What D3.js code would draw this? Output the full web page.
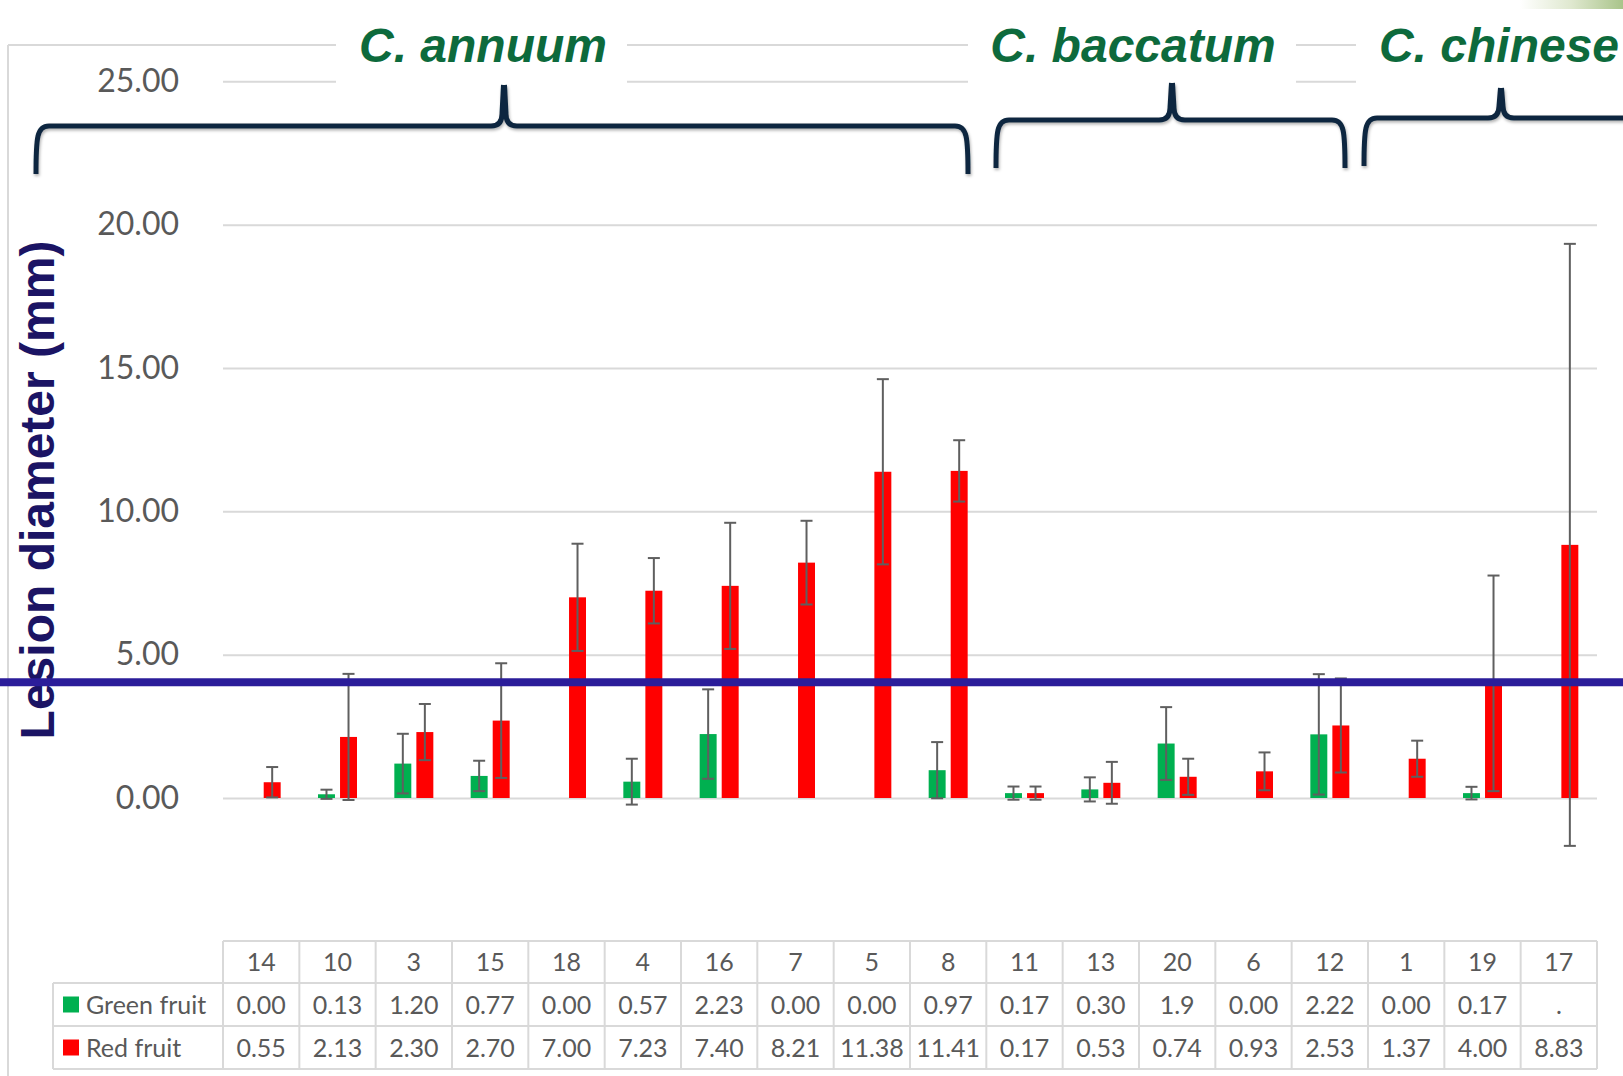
<!DOCTYPE html>
<html>
<head>
<meta charset="utf-8">
<script src="https://cdn.jsdelivr.net/npm/d3@7"></script>
<style>
  html, body { margin: 0; padding: 0; background: #fff; }
  svg { display: block; }
</style>
</head>
<body>
<div class="svg-container"></div>
<script>
// chart data
const categories = ["14", "10", "3", "15", "18", "4", "16", "7", "5", "8", "11", "13", "20", "6", "12", "1", "19", "17"];
const greenValues = [0, 0.13, 1.2, 0.77, 0, 0.57, 2.23, 0, 0, 0.97, 0.17, 0.3, 1.9, 0, 2.22, 0, 0.17, null];
const redValues = [0.55, 2.13, 2.3, 2.7, 7.0, 7.23, 7.4, 8.21, 11.38, 11.41, 0.17, 0.53, 0.74, 0.93, 2.53, 1.37, 4.0, 8.83];
const greenErrors = [0, 0.16, 1.04, 0.53, 0, 0.8, 1.56, 0, 0, 0.98, 0.23, 0.42, 1.27, 0, 2.1, 0, 0.22, null];
const redErrors = [0.53, 2.2, 0.98, 2.0, 1.87, 1.14, 2.2, 1.46, 3.23, 1.07, 0.23, 0.73, 0.63, 0.66, 1.64, 0.63, 3.76, 10.5];
const greenLabels = ["0.00", "0.13", "1.20", "0.77", "0.00", "0.57", "2.23", "0.00", "0.00", "0.97", "0.17", "0.30", "1.9", "0.00", "2.22", "0.00", "0.17", "."];
const yTicks = [0, 5, 10, 15, 20, 25];
const thresholdValue = 4.04;
const seriesNames = ["Green fruit", "Red fruit"];
const speciesNames = ["C. annuum", "C. baccatum", "C. chinese"];

// layout
const width = 1623;
const height = 1076;
const plot = { left: 223, right: 1597, top: 81.3, bottom: 798 };
const table = { legendLeft: 53, top: 941, rowH: [42, 43, 43] };
const colors = { green: "#00b050", red: "#ff0000", grid: "#d9d9d9", text: "#595959" };

// species brace annotations: label box, label centre, brace geometry
const braceLayout = [
  { box: [336, 627], cx: 483, L: 36, R: 968, H: 126, B: 174, P: 504, T: 85 },
  { box: [968, 1296], cx: 1133, L: 996, R: 1345, H: 120, B: 168, P: 1172, T: 83 },
  { box: [1356, 1623], cx: 1499, L: 1364, R: 1720, H: 118, B: 166, P: 1501, T: 88 },
];

const rows = categories.map((c, i) => ({
  cat: c,
  green: greenValues[i],
  red: redValues[i],
  greenErr: greenErrors[i],
  redErr: redErrors[i],
}));

const svg = d3
  .select(".svg-container")
  .append("svg")
  .attr("width", width)
  .attr("height", height)
  .attr("viewBox", `0 0 ${width} ${height}`);

const defs = svg.append("defs");
const shadow = defs.append("filter").attr("id", "shadow").attr("x", "-10%").attr("y", "-50%").attr("width", "120%").attr("height", "200%");
shadow.append("feDropShadow").attr("dx", 1).attr("dy", 2).attr("stdDeviation", 1.5).attr("flood-color", "#000").attr("flood-opacity", 0.3);
const grad = defs.append("linearGradient").attr("id", "corner").attr("x1", "0").attr("x2", "1");
grad.append("stop").attr("offset", "0").attr("stop-color", "#ffffff");
grad.append("stop").attr("offset", "0.5").attr("stop-color", "#dfe8cf");
grad.append("stop").attr("offset", "1").attr("stop-color", "#a9c48a");

svg.append("rect").attr("width", width).attr("height", height).attr("fill", "#fff");
svg.append("rect").attr("x", 1520).attr("y", 0).attr("width", 103).attr("height", 9).attr("fill", "url(#corner)");

// scales
const xScale = d3.scaleBand().domain(categories).range([plot.left, plot.right]).padding(0);
const bw = xScale.bandwidth();
const xInner = d3
  .scaleBand()
  .domain(["green", "red"])
  .range([bw / 2 - 19.5, bw / 2 + 19.5])
  .paddingInner(0.23);
const yScale = d3.scaleLinear().domain([0, 25]).range([plot.bottom, plot.top]);

// chart border
svg.append("line").attr("x1", 8).attr("x2", 8).attr("y1", 45).attr("y2", height)
  .attr("stroke", colors.grid).attr("stroke-width", 2);
svg.append("line").attr("x1", 8).attr("x2", width).attr("y1", 45).attr("y2", 45)
  .attr("stroke", colors.grid).attr("stroke-width", 2);

// y grid
svg
  .append("g")
  .attr("class", "grid")
  .attr("transform", `translate(${plot.left},0)`)
  .call(d3.axisLeft(yScale).tickValues(yTicks).tickSize(-(plot.right - plot.left)).tickFormat(""))
  .call((g) => g.select(".domain").remove())
  .call((g) => g.selectAll(".tick line").attr("stroke", colors.grid).attr("stroke-width", 2));

// y tick labels
svg
  .append("g")
  .attr("class", "y-axis")
  .attr("transform", `translate(179,0)`)
  .call(d3.axisLeft(yScale).tickValues(yTicks).tickSize(0).tickPadding(0).tickFormat(d3.format(".2f")))
  .call((g) => g.select(".domain").remove())
  .call((g) =>
    g.selectAll(".tick text")
      .attr("fill", colors.text)
      .attr("font-family", "Lato, 'Open Sans', sans-serif")
      .attr("font-size", 32)
  );

// species labels with white boxes
const species = svg.append("g").attr("class", "species");
species
  .selectAll("rect")
  .data(braceLayout)
  .join("rect")
  .attr("x", (d) => d.box[0])
  .attr("width", (d) => d.box[1] - d.box[0])
  .attr("y", 12)
  .attr("height", 82)
  .attr("fill", "#fff");
species
  .selectAll("text")
  .data(braceLayout)
  .join("text")
  .attr("x", (d) => d.cx)
  .attr("y", 62)
  .attr("text-anchor", "middle")
  .attr("font-family", "'Liberation Sans', Arial, sans-serif")
  .attr("font-weight", "bold")
  .attr("font-style", "italic")
  .attr("font-size", 48)
  .attr("fill", "#0d6a3c")
  .text((d, i) => speciesNames[i]);

// braces
const bracePath = (d) => {
  const r = 11;
  return `M${d.L},${d.B} C${d.L},${d.H + r} ${d.L + 1},${d.H} ${d.L + r + 2},${d.H}` +
    ` L${d.P - 13},${d.H} Q${d.P - 2},${d.H} ${d.P - 2},${d.H - 12} L${d.P - 0.5},${d.T}` +
    ` M${d.P + 0.5},${d.T} L${d.P + 2},${d.H - 12} Q${d.P + 2},${d.H} ${d.P + 13},${d.H}` +
    ` L${d.R - r - 2},${d.H} C${d.R - 1},${d.H} ${d.R},${d.H + r} ${d.R},${d.B}`;
};
svg
  .append("g")
  .attr("class", "braces")
  .attr("filter", "url(#shadow)")
  .selectAll("path")
  .data(braceLayout)
  .join("path")
  .attr("d", bracePath)
  .attr("fill", "none")
  .attr("stroke", "#10283f")
  .attr("stroke-width", 5)
  .attr("stroke-linejoin", "round");

// bars
const barGroups = svg
  .append("g")
  .attr("class", "bars")
  .selectAll("g")
  .data(rows)
  .join("g")
  .attr("transform", (d) => `translate(${xScale(d.cat)},0)`);

["green", "red"].forEach((key) => {
  barGroups
    .filter((d) => d[key] !== null && d[key] > 0)
    .append("rect")
    .attr("x", xInner(key))
    .attr("width", xInner.bandwidth())
    .attr("y", (d) => yScale(d[key]))
    .attr("height", (d) => yScale(0) - yScale(d[key]))
    .attr("fill", colors[key]);
});

// error bars
["green", "red"].forEach((key) => {
  const cx = xInner(key) + xInner.bandwidth() / 2;
  const eb = barGroups
    .filter((d) => d[key] !== null && d[key + "Err"] > 0)
    .append("g")
    .attr("stroke", "#5f5f5f")
    .attr("stroke-width", 2);
  eb.append("line")
    .attr("x1", cx).attr("x2", cx)
    .attr("y1", (d) => yScale(d[key] + d[key + "Err"]))
    .attr("y2", (d) => yScale(d[key] - d[key + "Err"]));
  eb.append("line")
    .attr("x1", cx - 6).attr("x2", cx + 6)
    .attr("y1", (d) => yScale(d[key] + d[key + "Err"]))
    .attr("y2", (d) => yScale(d[key] + d[key + "Err"]));
  eb.append("line")
    .attr("x1", cx - 6).attr("x2", cx + 6)
    .attr("y1", (d) => yScale(d[key] - d[key + "Err"]))
    .attr("y2", (d) => yScale(d[key] - d[key + "Err"]));
});

// y axis title
svg
  .append("text")
  .attr("transform", `translate(37,490) rotate(-90)`)
  .attr("text-anchor", "middle")
  .attr("dominant-baseline", "central")
  .attr("font-family", "'Liberation Sans', Arial, sans-serif")
  .attr("font-weight", "bold")
  .attr("font-size", 48)
  .attr("fill", "#1b1464")
  .text("Lesion diameter (mm)");

// threshold line
svg
  .append("line")
  .attr("x1", 0)
  .attr("x2", width)
  .attr("y1", yScale(thresholdValue))
  .attr("y2", yScale(thresholdValue))
  .attr("stroke", "#2b1d9a")
  .attr("stroke-width", 8);

// data table
const tbl = svg.append("g").attr("class", "data-table");
const rowTops = [table.top, table.top + table.rowH[0], table.top + table.rowH[0] + table.rowH[1]];
const tableBottom = rowTops[2] + table.rowH[2];
const lineStyle = (sel) => sel.attr("stroke", colors.grid).attr("stroke-width", 2);

tbl.append("line").attr("x1", plot.left).attr("x2", plot.right).attr("y1", rowTops[0]).attr("y2", rowTops[0]).call(lineStyle);
[rowTops[1], rowTops[2], tableBottom].forEach((y) => {
  tbl.append("line").attr("x1", table.legendLeft).attr("x2", plot.right).attr("y1", y).attr("y2", y).call(lineStyle);
});
tbl.append("line").attr("x1", table.legendLeft).attr("x2", table.legendLeft).attr("y1", rowTops[1]).attr("y2", tableBottom).call(lineStyle);
tbl
  .selectAll(".col-line")
  .data(categories.concat(["end"]))
  .join("line")
  .attr("class", "col-line")
  .attr("x1", (d, i) => plot.left + i * bw)
  .attr("x2", (d, i) => plot.left + i * bw)
  .attr("y1", rowTops[0])
  .attr("y2", tableBottom)
  .call(lineStyle);

const cellText = (sel) =>
  sel
    .attr("text-anchor", "middle")
    .attr("dy", "0.36em")
    .attr("font-family", "Lato, 'Open Sans', sans-serif")
    .attr("font-size", 25)
    .attr("fill", colors.text);

const rowMid = (r) => rowTops[r] + table.rowH[r] / 2;

tbl.selectAll(".hdr").data(categories).join("text").attr("class", "hdr")
  .attr("x", (d) => xScale(d) + bw / 2).attr("y", rowMid(0)).call(cellText).text((d) => d);
tbl.selectAll(".gval").data(greenLabels).join("text").attr("class", "gval")
  .attr("x", (d, i) => xScale(categories[i]) + bw / 2).attr("y", rowMid(1)).call(cellText).text((d) => d);
tbl.selectAll(".rval").data(redValues).join("text").attr("class", "rval")
  .attr("x", (d, i) => xScale(categories[i]) + bw / 2).attr("y", rowMid(2)).call(cellText).text(d3.format(".2f"));

// legend keys in table
["green", "red"].forEach((key, i) => {
  tbl.append("rect")
    .attr("x", 63).attr("y", rowMid(i + 1) - 8)
    .attr("width", 16).attr("height", 16)
    .attr("fill", colors[key]);
  tbl.append("text")
    .attr("x", 86).attr("y", rowMid(i + 1))
    .attr("dy", "0.36em")
    .attr("font-family", "Lato, 'Open Sans', sans-serif")
    .attr("font-size", 25)
    .attr("fill", colors.text)
    .text(seriesNames[i]);
});
</script>
</body>
</html>
